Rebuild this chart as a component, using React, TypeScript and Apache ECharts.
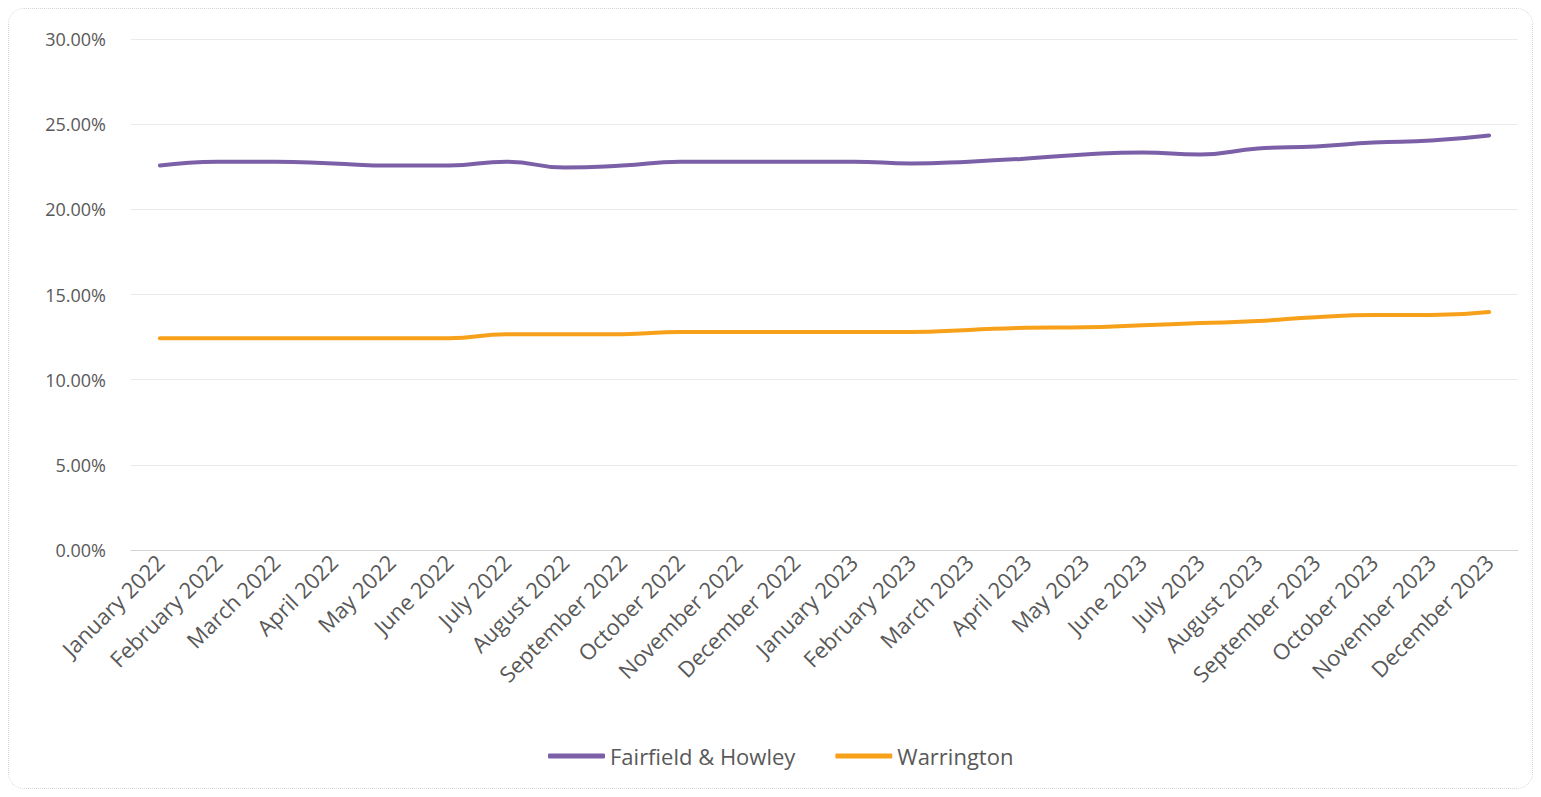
import React, { useEffect, useRef } from "react";
import * as echarts from "echarts";

const months: string[] = [
  "January 2022", "February 2022", "March 2022", "April 2022", "May 2022", "June 2022",
  "July 2022", "August 2022", "September 2022", "October 2022", "November 2022", "December 2022",
  "January 2023", "February 2023", "March 2023", "April 2023", "May 2023", "June 2023",
  "July 2023", "August 2023", "September 2023", "October 2023", "November 2023", "December 2023",
];

const fairfieldHowley: number[] = [
  22.57, 22.8, 22.8, 22.69, 22.57, 22.57, 22.8, 22.45, 22.57, 22.8, 22.8, 22.8,
  22.8, 22.69, 22.8, 22.98, 23.22, 23.34, 23.22, 23.57, 23.69, 23.92, 24.04, 24.34,
];

const warrington: number[] = [
  12.43, 12.43, 12.43, 12.43, 12.43, 12.43, 12.67, 12.67, 12.67, 12.8, 12.8, 12.8,
  12.8, 12.8, 12.92, 13.05, 13.08, 13.2, 13.32, 13.44, 13.67, 13.79, 13.79, 13.97,
];

const seriesNames: string[] = ["Fairfield & Howley", "Warrington"];
const yTicks = { min: 0, max: 30, step: 5 };

const FONT = "'Open Sans', 'Liberation Sans', sans-serif";
const TEXT = "#595959";

export default function App() {
  const ref = useRef<HTMLDivElement>(null);

  useEffect(() => {
    if (!ref.current) return;
    const chart = echarts.init(ref.current, undefined, { renderer: "svg" });
    chart.setOption({
      animation: false,
      backgroundColor: "#ffffff",
      textStyle: { fontFamily: FONT },
      grid: { left: 122, right: 14, top: 30, bottom: 238, containLabel: false },
      legend: {
        data: seriesNames,
        left: 534,
        top: 731,
        icon: "roundRect",
        itemWidth: 57,
        itemHeight: 5,
        itemGap: 40,
        textStyle: { color: TEXT, fontSize: 22, fontFamily: FONT },
      },
      xAxis: {
        type: "category",
        data: months,
        boundaryGap: true,
        axisLine: { lineStyle: { color: "#d4d4d4", width: 1 } },
        axisTick: { show: false },
        axisLabel: {
          interval: 0,
          rotate: 45,
          margin: 8,
          color: TEXT,
          fontSize: 22,
          fontFamily: FONT,
        },
      },
      yAxis: {
        type: "value",
        min: yTicks.min,
        max: yTicks.max,
        interval: yTicks.step,
        axisLine: { show: false },
        axisTick: { show: false },
        splitLine: { lineStyle: { color: "#ebebeb", width: 1 } },
        axisLabel: {
          margin: 25,
          color: TEXT,
          fontSize: 18,
          fontFamily: FONT,
          formatter: (v: number) => v.toFixed(2) + "%",
        },
      },
      series: [
        {
          name: seriesNames[0],
          type: "line",
          data: fairfieldHowley,
          smooth: true,
          showSymbol: false,
          symbol: "none",
          lineStyle: { color: "#7b60a8", width: 4, cap: "round" },
          itemStyle: { color: "#7b60a8" },
        },
        {
          name: seriesNames[1],
          type: "line",
          data: warrington,
          smooth: true,
          showSymbol: false,
          symbol: "none",
          lineStyle: { color: "#f7a11a", width: 4, cap: "round" },
          itemStyle: { color: "#f7a11a" },
        },
      ],
    });
    return () => chart.dispose();
  }, []);

  return (
    <div
      ref={ref}
      style={{
        width: 1525,
        height: 781,
        boxSizing: "border-box",
        border: "1.5px dotted #d6d6d6",
        borderRadius: 16,
        overflow: "hidden",
      }}
    />
  );
}
